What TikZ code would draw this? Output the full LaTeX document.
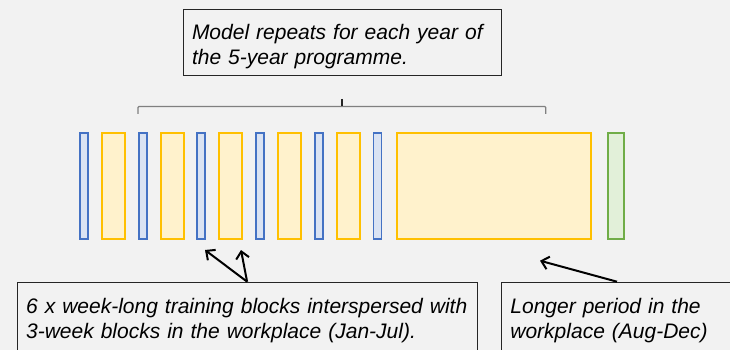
\documentclass[tikz,border=0pt]{standalone}
\usepackage{fontspec}
\setmainfont{Liberation Sans}
\usetikzlibrary{arrows.meta,calc}

\definecolor{bggrey}{HTML}{F2F2F2}
\definecolor{trainline}{HTML}{4472C4}
\definecolor{trainfill}{HTML}{DAE3F3}
\definecolor{workline}{HTML}{FFC000}
\definecolor{workfill}{HTML}{FFF2CC}
\definecolor{endline}{HTML}{70AD47}
\definecolor{endfill}{HTML}{E2F0D9}

\begin{document}
\begin{tikzpicture}[x=1pt,y=-1pt,>={Straight Barb[length=7pt,width=13pt]},
    block/.style={draw,line width=1.8pt,minimum height=106pt,inner sep=0pt,anchor=north west},
    train/.style={block,draw=trainline,fill=trainfill,minimum width=8pt},
    work/.style={block,draw=workline,fill=workfill,minimum width=23pt},
    note/.style={draw=black!85,line width=0.8pt,fill=bggrey,font=\fontsize{21}{25}\selectfont\itshape,
        align=left,inner xsep=9pt,anchor=north west}]

    % Background
    \fill [bggrey] (0,0) rectangle (730,350);
    \clip (0,0) rectangle (730,350);

    % Training weeks (blue) and workplace blocks (yellow), Jan-Jul
    \foreach \i in {1,...,6} {
        \node [train] (t\i) at ({79+58.7*(\i-1)},132) {};
    }
    \foreach \i in {1,...,5} {
        \node [work] (w\i) at ({101+58.7*(\i-1)},132) {};
    }

    % Longer workplace period (Aug-Dec) and final block
    \node [work,minimum width=194pt] (wlong) at (395.7,132) {};
    \node [block,draw=endline,fill=endfill,minimum width=15.7pt] (final) at (607,132) {};

    % Brace over the year
    \draw [black!50,line width=1.3pt,rounded corners=1pt] (138,114) -- (138,106.5) -- (545.7,106.5) -- (545.7,114);
    \draw [black!85,line width=1.3pt] (342,99) -- (342,106.5);

    % Notes
    \node [note,anchor=north,text width=300pt,minimum height=65.6pt] (repeat) at (342,9.4)
        {\rule{0pt}{23.6pt}Model repeats for each year of\\the 5-year programme.};
    \node [note,text width=442pt,inner ysep=16pt] (blocks) at (16.7,281.7)
        {6 x week-long training blocks interspersed with\\3-week blocks in the workplace (Jan-Jul).};
    \node [note,text width=260pt,inner ysep=16pt] (period) at (501,281.7)
        {Longer period in the\\workplace (Aug-Dec)};

    % Pointers
    \coordinate (tip1) at (205,250);
    \coordinate (tip2) at (241,250);
    \coordinate (tip3) at (540,260.7);
    \draw [->,line width=2pt] (blocks.north) -- (tip1);
    \draw [->,line width=2pt] (blocks.north) -- (tip2);
    \draw [->,line width=2pt] ($(period.north west)+(116,0)$) -- (tip3);

\end{tikzpicture}
\end{document}
